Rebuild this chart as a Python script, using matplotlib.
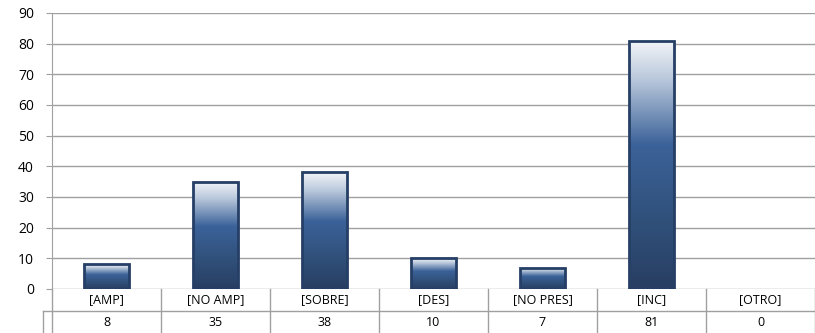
import numpy as np
import matplotlib
matplotlib.use("Agg")
import matplotlib.pyplot as plt
from matplotlib.colors import LinearSegmentedColormap

categorias = ["[AMP]", "[NO AMP]", "[SOBRE]", "[DES]", "[NO PRES]", "[INC]", "[OTRO]"]
valores = [8, 35, 38, 10, 7, 81, 0]
yticks = list(range(0, 100, 10))

W, H = 815, 333
fig = plt.figure(figsize=(W / 100, H / 100), dpi=100)
plt.rcParams['font.family'] = ['Open Sans', 'DejaVu Sans']

x0, y0, y1 = 52, 289, 13
ax = fig.add_axes([x0 / W, (H - y0) / H, 1 - x0 / W, (y0 - y1) / H])
ax.set_xlim(-0.5, len(categorias) - 0.5)
ax.set_ylim(0, 90)
ax.set_yticks(yticks)
ax.set_xticks([])
for s in ["top", "right", "bottom"]:
    ax.spines[s].set_visible(False)
ax.spines["left"].set_color("#a0a0a0")
ax.tick_params(axis="y", length=4, color="#a0a0a0", labelsize=10, pad=9)
ax.yaxis.grid(True, color="#a0a0a0", linewidth=1)
ax.set_axisbelow(True)

cmap = LinearSegmentedColormap.from_list("barra", [
    (0.0, "#f3f5f8"), (0.15, "#bccadd"), (0.42, "#3b6299"),
    (0.7, "#31527d"), (1.0, "#283e62")])
grad = np.linspace(0, 1, 256).reshape(-1, 1)

xs = np.arange(len(categorias))
bars = ax.bar(xs, valores, width=0.42, facecolor="none",
              edgecolor="#253f66", linewidth=2, zorder=3)
for b in bars:
    if b.get_height() <= 0:
        b.set_visible(False)
        continue
    bx, by, bw, bh = b.get_x(), b.get_y(), b.get_width(), b.get_height()
    im = ax.imshow(grad, cmap=cmap, aspect="auto", origin="upper",
                   extent=[bx, bx + bw, by, by + bh], zorder=2)
    im.set_clip_path(b)
ax.set_xlim(-0.5, len(categorias) - 0.5)
ax.set_ylim(0, 90)

# tabla de datos
tab = fig.add_axes([x0 / W, 0, 1 - x0 / W, 44 / H])
tab.set_xlim(-0.5, len(categorias) - 0.5)
tab.set_ylim(0, 2)
tab.axis("off")
gris = "#a0a0a0"
for i in range(len(categorias) + 1):
    tab.plot([i - 0.5, i - 0.5], [0, 2], color=gris, lw=1, clip_on=False)
tab.plot([-0.5, len(categorias) - 0.5], [1, 1], color=gris, lw=1)
tab.plot([-0.58, -0.5], [1, 1], color=gris, lw=1, clip_on=False)
tab.plot([-0.58, -0.58], [0, 1], color=gris, lw=1, clip_on=False)
for i, (c, v) in enumerate(zip(categorias, valores)):
    tab.text(i, 1.5, c, ha="center", va="center", fontsize=9)
    tab.text(i, 0.5, str(v), ha="center", va="center", fontsize=9)

fig.savefig("out.png", dpi=100)
